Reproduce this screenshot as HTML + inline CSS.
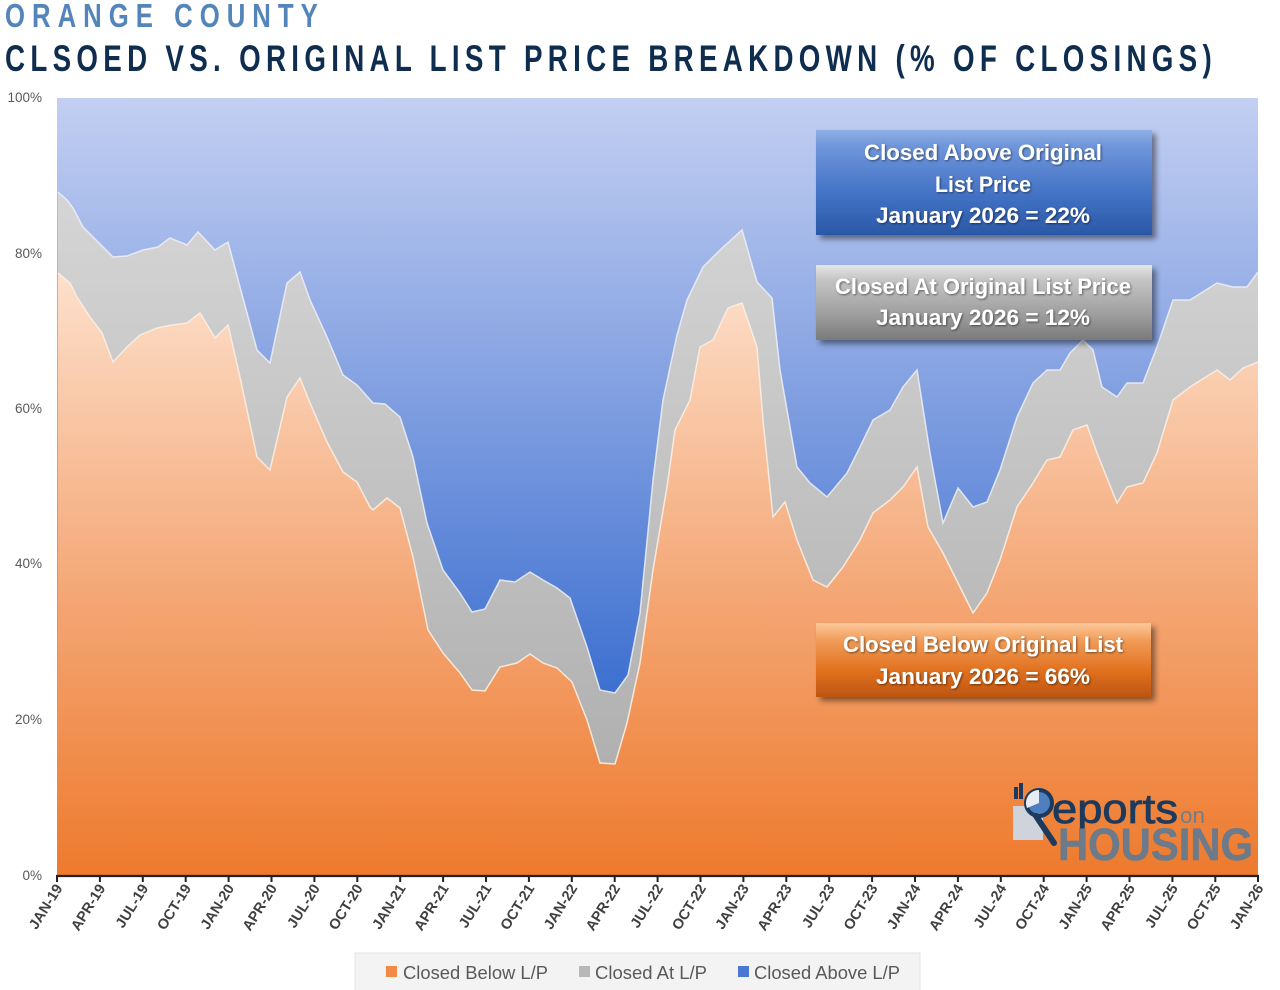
<!DOCTYPE html>
<html>
<head>
<meta charset="utf-8">
<style>
  html,body{margin:0;padding:0;background:#fff;}
  svg{display:block;}
</style>
</head>
<body>
<svg width="1280" height="990" viewBox="0 0 1280 990" xmlns="http://www.w3.org/2000/svg" font-family="'Liberation Sans', sans-serif">
  <defs>
    <linearGradient id="gBlue" gradientUnits="userSpaceOnUse" x1="0" y1="98" x2="0" y2="875">
      <stop offset="0" stop-color="#c3cff2"/>
      <stop offset="0.4" stop-color="#7e9de0"/>
      <stop offset="0.77" stop-color="#3c6fd0"/>
      <stop offset="1" stop-color="#3164c8"/>
    </linearGradient>
    <linearGradient id="gGray" gradientUnits="userSpaceOnUse" x1="0" y1="180" x2="0" y2="875">
      <stop offset="0" stop-color="#d6d6d6"/>
      <stop offset="1" stop-color="#a9a9a9"/>
    </linearGradient>
    <linearGradient id="gOrange" gradientUnits="userSpaceOnUse" x1="0" y1="260" x2="0" y2="875">
      <stop offset="0" stop-color="#fde2cf"/>
      <stop offset="0.55" stop-color="#f4a674"/>
      <stop offset="1" stop-color="#ee7a2d"/>
    </linearGradient>
    <linearGradient id="b1" x1="0" y1="0" x2="0" y2="1">
      <stop offset="0" stop-color="#8fb0e6"/>
      <stop offset="0.15" stop-color="#6f96da"/>
      <stop offset="0.6" stop-color="#4473c6"/>
      <stop offset="1" stop-color="#2a58a6"/>
    </linearGradient>
    <linearGradient id="b2" x1="0" y1="0" x2="0" y2="1">
      <stop offset="0" stop-color="#e6e6e6"/>
      <stop offset="0.2" stop-color="#c4c4c4"/>
      <stop offset="0.7" stop-color="#9a9a9a"/>
      <stop offset="1" stop-color="#7a7a7a"/>
    </linearGradient>
    <linearGradient id="b3" x1="0" y1="0" x2="0" y2="1">
      <stop offset="0" stop-color="#fcc89a"/>
      <stop offset="0.25" stop-color="#f09a55"/>
      <stop offset="0.65" stop-color="#e0701f"/>
      <stop offset="1" stop-color="#bd5510"/>
    </linearGradient>
    <filter id="sh" x="-10%" y="-20%" width="130%" height="160%">
      <feGaussianBlur in="SourceAlpha" stdDeviation="3"/>
      <feOffset dx="4" dy="4" result="o"/>
      <feComponentTransfer><feFuncA type="linear" slope="0.45"/></feComponentTransfer>
      <feMerge><feMergeNode/><feMergeNode in="SourceGraphic"/></feMerge>
    </filter>
    <filter id="ts" x="-5%" y="-20%" width="110%" height="150%">
      <feGaussianBlur in="SourceAlpha" stdDeviation="1"/>
      <feOffset dx="1" dy="1"/>
      <feComponentTransfer><feFuncA type="linear" slope="0.5"/></feComponentTransfer>
      <feMerge><feMergeNode/><feMergeNode in="SourceGraphic"/></feMerge>
    </filter>
  </defs>

  <!-- Titles -->
  <g transform="translate(5,27) scale(0.78,1)">
    <text x="0" y="0" font-size="33" font-weight="bold" fill="#5384ba" textLength="401" lengthAdjust="spacing">ORANGE COUNTY</text>
  </g>
  <g transform="translate(5,71) scale(0.75,1)">
    <text x="0" y="0" font-size="37" font-weight="bold" fill="#0f2d4f" textLength="1609" lengthAdjust="spacing">CLSOED VS. ORIGINAL LIST PRICE BREAKDOWN (% OF CLOSINGS)</text>
  </g>

  <!-- Y axis labels -->
  <g font-size="13.5" fill="#595959" text-anchor="end">
    <text x="42" y="102">100%</text>
    <text x="42" y="258">80%</text>
    <text x="42" y="413">60%</text>
    <text x="42" y="568">40%</text>
    <text x="42" y="724">20%</text>
    <text x="42" y="880">0%</text>
  </g>

  <!-- Chart areas -->
  <rect x="57" y="98" width="1201" height="777" fill="url(#gBlue)"/>
  <path fill="url(#gGray)" d="M57,875 L58,192 67,200 73,208 83,227 98,242 113,257 127,256 143,250 158,247 170,238 187,245 198,232 215,250 228,242 240,287 257,350 270,363 287,283 300,272 310,300 327,337 343,375 357,385 373,403 385,404 400,417 413,457 427,523 443,570 460,593 472,612 485,609 500,580 515,582 530,572 543,580 557,588 570,598 587,647 600,690 615,693 628,675 640,613 653,480 663,400 677,335 687,300 703,267 720,250 742,230 757,282 772,298 780,370 797,467 810,483 827,497 847,473 860,447 873,420 890,410 903,387 917,370 930,453 943,523 958,488 973,507 987,502 1000,470 1017,417 1033,383 1047,370 1060,370 1070,353 1083,340 1093,350 1102,387 1117,397 1127,383 1143,383 1157,347 1173,300 1190,300 1217,283 1233,287 1247,287 1258,272 L1258,875 Z"/>
  <path fill="url(#gOrange)" d="M57,875 L58,273 70,283 77,297 90,317 102,333 113,362 127,347 140,335 157,328 172,325 187,323 200,313 215,338 228,325 240,377 257,457 270,470 287,397 300,378 310,403 327,442 343,472 357,482 370,507 373,510 387,498 400,508 413,557 428,630 443,653 460,673 472,690 485,691 500,667 517,663 530,654 543,663 557,668 572,682 587,720 600,763 615,764 627,723 640,663 653,570 667,487 675,430 690,400 700,347 713,340 728,308 742,303 757,347 763,420 773,517 785,502 797,540 813,580 827,587 843,567 860,540 873,513 890,500 903,487 917,467 928,527 943,553 960,587 973,613 987,593 1000,560 1017,507 1033,483 1047,460 1060,457 1073,430 1087,425 1097,453 1117,503 1127,487 1143,483 1157,453 1173,400 1190,387 1217,370 1230,380 1243,368 1258,362 L1258,875 Z"/>
  <!-- boundary lines -->
  <polyline fill="none" stroke="#eef0f8" stroke-width="1.5" stroke-opacity="0.85" points="58,192 67,200 73,208 83,227 98,242 113,257 127,256 143,250 158,247 170,238 187,245 198,232 215,250 228,242 240,287 257,350 270,363 287,283 300,272 310,300 327,337 343,375 357,385 373,403 385,404 400,417 413,457 427,523 443,570 460,593 472,612 485,609 500,580 515,582 530,572 543,580 557,588 570,598 587,647 600,690 615,693 628,675 640,613 653,480 663,400 677,335 687,300 703,267 720,250 742,230 757,282 772,298 780,370 797,467 810,483 827,497 847,473 860,447 873,420 890,410 903,387 917,370 930,453 943,523 958,488 973,507 987,502 1000,470 1017,417 1033,383 1047,370 1060,370 1070,353 1083,340 1093,350 1102,387 1117,397 1127,383 1143,383 1157,347 1173,300 1190,300 1217,283 1233,287 1247,287 1258,272"/>
  <polyline fill="none" stroke="#fbeee2" stroke-width="1.5" stroke-opacity="0.9" points="58,273 70,283 77,297 90,317 102,333 113,362 127,347 140,335 157,328 172,325 187,323 200,313 215,338 228,325 240,377 257,457 270,470 287,397 300,378 310,403 327,442 343,472 357,482 370,507 373,510 387,498 400,508 413,557 428,630 443,653 460,673 472,690 485,691 500,667 517,663 530,654 543,663 557,668 572,682 587,720 600,763 615,764 627,723 640,663 653,570 667,487 675,430 690,400 700,347 713,340 728,308 742,303 757,347 763,420 773,517 785,502 797,540 813,580 827,587 843,567 860,540 873,513 890,500 903,487 917,467 928,527 943,553 960,587 973,613 987,593 1000,560 1017,507 1033,483 1047,460 1060,457 1073,430 1087,425 1097,453 1117,503 1127,487 1143,483 1157,453 1173,400 1190,387 1217,370 1230,380 1243,368 1258,362"/>

  <!-- X axis -->
  <line x1="56" y1="876" x2="1259" y2="876" stroke="#222" stroke-width="2.2"/>
  <g stroke="#222" stroke-width="2">
    <line x1="57" y1="875" x2="57" y2="882"/><line x1="99.9" y1="875" x2="99.9" y2="882"/><line x1="142.8" y1="875" x2="142.8" y2="882"/><line x1="185.7" y1="875" x2="185.7" y2="882"/><line x1="228.6" y1="875" x2="228.6" y2="882"/><line x1="271.5" y1="875" x2="271.5" y2="882"/><line x1="314.4" y1="875" x2="314.4" y2="882"/><line x1="357.3" y1="875" x2="357.3" y2="882"/><line x1="400.2" y1="875" x2="400.2" y2="882"/><line x1="443.1" y1="875" x2="443.1" y2="882"/><line x1="486" y1="875" x2="486" y2="882"/><line x1="528.9" y1="875" x2="528.9" y2="882"/><line x1="571.8" y1="875" x2="571.8" y2="882"/><line x1="614.7" y1="875" x2="614.7" y2="882"/><line x1="657.6" y1="875" x2="657.6" y2="882"/><line x1="700.5" y1="875" x2="700.5" y2="882"/><line x1="743.4" y1="875" x2="743.4" y2="882"/><line x1="786.3" y1="875" x2="786.3" y2="882"/><line x1="829.2" y1="875" x2="829.2" y2="882"/><line x1="872.1" y1="875" x2="872.1" y2="882"/><line x1="915" y1="875" x2="915" y2="882"/><line x1="957.9" y1="875" x2="957.9" y2="882"/><line x1="1000.8" y1="875" x2="1000.8" y2="882"/><line x1="1043.7" y1="875" x2="1043.7" y2="882"/><line x1="1086.6" y1="875" x2="1086.6" y2="882"/><line x1="1129.5" y1="875" x2="1129.5" y2="882"/><line x1="1172.4" y1="875" x2="1172.4" y2="882"/><line x1="1215.3" y1="875" x2="1215.3" y2="882"/><line x1="1258" y1="875" x2="1258" y2="882"/>
  </g>
  <g font-size="14.5" font-weight="bold" fill="#404040" text-anchor="end">
    <text transform="translate(63,888) rotate(-58)">JAN-19</text>
    <text transform="translate(105.9,888) rotate(-58)">APR-19</text>
    <text transform="translate(148.8,888) rotate(-58)">JUL-19</text>
    <text transform="translate(191.7,888) rotate(-58)">OCT-19</text>
    <text transform="translate(234.6,888) rotate(-58)">JAN-20</text>
    <text transform="translate(277.5,888) rotate(-58)">APR-20</text>
    <text transform="translate(320.4,888) rotate(-58)">JUL-20</text>
    <text transform="translate(363.3,888) rotate(-58)">OCT-20</text>
    <text transform="translate(406.2,888) rotate(-58)">JAN-21</text>
    <text transform="translate(449.1,888) rotate(-58)">APR-21</text>
    <text transform="translate(492,888) rotate(-58)">JUL-21</text>
    <text transform="translate(534.9,888) rotate(-58)">OCT-21</text>
    <text transform="translate(577.8,888) rotate(-58)">JAN-22</text>
    <text transform="translate(620.7,888) rotate(-58)">APR-22</text>
    <text transform="translate(663.6,888) rotate(-58)">JUL-22</text>
    <text transform="translate(706.5,888) rotate(-58)">OCT-22</text>
    <text transform="translate(749.4,888) rotate(-58)">JAN-23</text>
    <text transform="translate(792.3,888) rotate(-58)">APR-23</text>
    <text transform="translate(835.2,888) rotate(-58)">JUL-23</text>
    <text transform="translate(878.1,888) rotate(-58)">OCT-23</text>
    <text transform="translate(921,888) rotate(-58)">JAN-24</text>
    <text transform="translate(963.9,888) rotate(-58)">APR-24</text>
    <text transform="translate(1006.8,888) rotate(-58)">JUL-24</text>
    <text transform="translate(1049.7,888) rotate(-58)">OCT-24</text>
    <text transform="translate(1092.6,888) rotate(-58)">JAN-25</text>
    <text transform="translate(1135.5,888) rotate(-58)">APR-25</text>
    <text transform="translate(1178.4,888) rotate(-58)">JUL-25</text>
    <text transform="translate(1221.3,888) rotate(-58)">OCT-25</text>
    <text transform="translate(1264,888) rotate(-58)">JAN-26</text>
  </g>

  <!-- Callout boxes -->
  <g filter="url(#sh)">
    <rect x="816" y="130" width="336" height="105" fill="url(#b1)"/>
    <rect x="816" y="265" width="336" height="75" fill="url(#b2)"/>
    <rect x="816" y="623" width="335" height="74" fill="url(#b3)"/>
  </g>
  <g font-size="22" font-weight="bold" fill="#ffffff" text-anchor="middle" filter="url(#ts)">
    <text x="983" y="160" textLength="238" lengthAdjust="spacingAndGlyphs">Closed Above Original</text>
    <text x="983" y="192" textLength="96" lengthAdjust="spacingAndGlyphs">List Price</text>
    <text x="983" y="223" textLength="214" lengthAdjust="spacingAndGlyphs">January 2026 = 22%</text>
    <text x="983" y="294" textLength="296" lengthAdjust="spacingAndGlyphs">Closed At Original List Price</text>
    <text x="983" y="325" textLength="214" lengthAdjust="spacingAndGlyphs">January 2026 = 12%</text>
    <text x="983" y="652" textLength="280" lengthAdjust="spacingAndGlyphs">Closed Below Original List</text>
    <text x="983" y="684" textLength="214" lengthAdjust="spacingAndGlyphs">January 2026 = 66%</text>
  </g>

  <!-- Logo -->
  <g>
    <rect x="1013" y="806" width="30" height="34" fill="#cfd4dc"/>
    <rect x="1014" y="787" width="4" height="12" fill="#1d3a5c"/>
    <rect x="1019" y="783" width="4" height="16" fill="#1d3a5c"/>
    <circle cx="1039" cy="803" r="13" fill="#4f7fbf" stroke="#1d3a5c" stroke-width="4"/>
    <path d="M1039,803 L1039,790 A13,13 0 0,0 1027,808 Z" fill="#e8edf4"/>
    <line x1="1036" y1="816" x2="1054" y2="843" stroke="#1d3a5c" stroke-width="6" stroke-linecap="round"/>
    <text x="1052" y="823" font-size="42" fill="#1d3a5c" stroke="#1d3a5c" stroke-width="0.8" textLength="126" lengthAdjust="spacingAndGlyphs">eports</text>
    <text x="1180" y="823" font-size="22" fill="#6f7d8c" textLength="25" lengthAdjust="spacingAndGlyphs">on</text>
    <text x="1058" y="860" font-size="45" font-weight="bold" fill="#6c7a89" stroke="#6c7a89" stroke-width="0.6" textLength="195" lengthAdjust="spacingAndGlyphs">HOUSING</text>
  </g>

  <!-- Legend -->
  <rect x="355" y="953" width="565" height="40" fill="#f3f3f3" stroke="#e6e6e6" stroke-width="1"/>
  <rect x="386" y="966" width="11" height="11" fill="#f08a45"/>
  <text x="403" y="979" font-size="18" fill="#595959" textLength="145" lengthAdjust="spacingAndGlyphs">Closed Below L/P</text>
  <rect x="579" y="966" width="11" height="11" fill="#b8b8b8"/>
  <text x="595" y="979" font-size="18" fill="#595959" textLength="112" lengthAdjust="spacingAndGlyphs">Closed At L/P</text>
  <rect x="738" y="966" width="11" height="11" fill="#4a78d2"/>
  <text x="754" y="979" font-size="18" fill="#595959" textLength="146" lengthAdjust="spacingAndGlyphs">Closed Above L/P</text>
</svg>
</body>
</html>
